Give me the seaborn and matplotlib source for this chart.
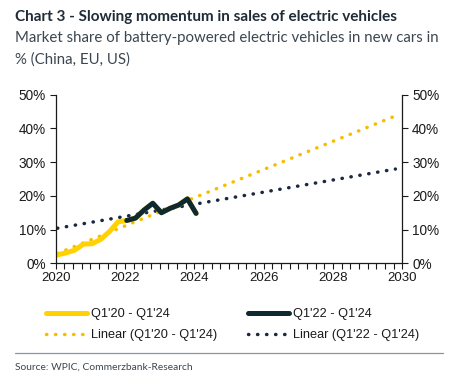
import numpy as np
import pandas as pd
import matplotlib
matplotlib.use("Agg")
import matplotlib.pyplot as plt
import seaborn as sns
from matplotlib.lines import Line2D
from matplotlib.ticker import MultipleLocator, FuncFormatter

# ---- data ----
quarters = ["Q1'20", "Q2'20", "Q3'20", "Q4'20", "Q1'21", "Q2'21", "Q3'21", "Q4'21",
            "Q1'22", "Q2'22", "Q3'22", "Q4'22", "Q1'23", "Q2'23", "Q3'23", "Q4'23", "Q1'24"]
share = [2.5, 3.1, 3.9, 5.7, 5.8, 7.1, 9.4, 12.3,
         12.7, 13.4, 15.8, 17.8, 15.0, 16.3, 17.3, 19.1, 14.8]
recent_start = "Q1'22"
trend_end_year = 2029.8
y_ticks = [0, 10, 20, 30, 40, 50]
x_ticks = [2020, 2022, 2024, 2026, 2028, 2030]
legend_labels = ["Q1'20 - Q1'24", "Linear (Q1'20 - Q1'24)",
                 "Q1'22 - Q1'24", "Linear (Q1'22 - Q1'24)"]

def q_to_year(q):
    qn = int(q[1])
    yr = 2000 + int(q[-2:])
    return yr + (qn - 1) / 4 + 0.05

df = pd.DataFrame({"quarter": quarters, "share": share})
df["x"] = df["quarter"].map(q_to_year)
recent = df.iloc[quarters.index(recent_start):].copy()

# linear trends (least squares like Excel trendline), drawn over full horizon
def trend(d, x0):
    b, a = np.polyfit(d["x"], d["share"], 1)
    xs = np.arange(x0, trend_end_year + 1e-6, 0.25)
    return pd.DataFrame({"x": xs, "share": a + b * xs})

t_all = trend(df, df["x"].iloc[0])
t_rec = trend(recent, df["x"].iloc[0])

YEL = "#FFD200"
YEL_T = "#F7BE00"
DARK = "#0E2A30"
DARK_T = "#1B2940"
TXT = "#1a1a1a"
DOTS = (0, (0.1, 2.5))

sns.set_style("ticks")
plt.rcParams["font.family"] = ["Liberation Sans", "DejaVu Sans"]

fig = plt.figure(figsize=(4.62, 3.74), dpi=100)
ax = fig.add_axes([0.1206, 0.296, 0.7502, 0.4508])

sns.lineplot(data=t_rec, x="x", y="share", ax=ax, color=DARK_T, lw=2.5, linestyle=DOTS)
ax.lines[-1].set_dash_capstyle("round")
sns.lineplot(data=t_all, x="x", y="share", ax=ax, color=YEL_T, lw=2.5, linestyle=DOTS)
ax.lines[-1].set_dash_capstyle("round")
sns.lineplot(data=df, x="x", y="share", ax=ax, color=YEL, lw=3.6)
sns.lineplot(data=recent, x="x", y="share", ax=ax, color=DARK, lw=3.6)

ax.set_xlim(2020, 2030)
ax.set_ylim(0, 50)
ax.set_xlabel("")
ax.set_ylabel("")
ax.set_xticks(x_ticks)
ax.xaxis.set_minor_locator(MultipleLocator(0.25))
ax.set_yticks(y_ticks)
fmt = FuncFormatter(lambda v, p: f"{v:.0f}%")
ax.yaxis.set_major_formatter(fmt)
ax.tick_params(axis="x", which="major", length=4, width=0.8, color=TXT, labelsize=9.5,
               labelcolor=TXT, pad=2)
ax.tick_params(axis="x", which="minor", length=4, width=0.8, color=TXT)
ax.tick_params(axis="y", length=4, width=0.8, color=TXT, labelsize=9.8, labelcolor=TXT, pad=3)
for s in ["left", "bottom"]:
    ax.spines[s].set_color(TXT)
    ax.spines[s].set_linewidth(0.9)
ax.spines["top"].set_visible(False)
ax.spines["right"].set_visible(False)

ax2 = ax.twinx()
ax2.set_ylim(0, 50)
ax2.set_yticks(y_ticks)
ax2.yaxis.set_major_formatter(fmt)
ax2.tick_params(axis="y", length=4, width=0.8, color=TXT, labelsize=9.8, labelcolor=TXT, pad=3)
ax2.spines["right"].set_color(TXT)
ax2.spines["right"].set_linewidth(0.9)
for s in ["left", "top", "bottom"]:
    ax2.spines[s].set_visible(False)

handles = [
    Line2D([], [], color=YEL, lw=3.6),
    Line2D([], [], color=YEL_T, lw=2.5, linestyle=DOTS, dash_capstyle="round"),
    Line2D([], [], color=DARK, lw=3.6),
    Line2D([], [], color=DARK_T, lw=2.5, linestyle=DOTS, dash_capstyle="round"),
]
fig.legend(handles, legend_labels, ncol=2, loc="center left",
           bbox_to_anchor=(0.075, 0.132), frameon=False, fontsize=9.2,
           handlelength=3.2, handletextpad=0.3, columnspacing=2.4,
           labelspacing=0.7, labelcolor=TXT)

title_font = ["Lato", "DejaVu Sans"]
fig.text(0.032, 0.944, "Chart 3 - Slowing momentum in sales of electric vehicles",
         fontsize=11, fontweight="bold", color="#1f2b36", family=title_font, va="baseline")
fig.text(0.032, 0.888, "Market share of battery-powered electric vehicles in new cars in",
         fontsize=10.8, color="#3b4650", family=title_font, va="baseline")
fig.text(0.032, 0.830, "% (China, EU, US)",
         fontsize=10.8, color="#3b4650", family=title_font, va="baseline")

fig.add_artist(Line2D([0.032, 0.959], [0.057, 0.057], transform=fig.transFigure,
                      color="#8a949c", lw=0.9))
fig.text(0.032, 0.012, "Source: WPIC, Commerzbank-Research", fontsize=7.4,
         color="#3b4650", family=title_font, va="baseline")

fig.savefig("out.png", dpi=100, facecolor="white")
